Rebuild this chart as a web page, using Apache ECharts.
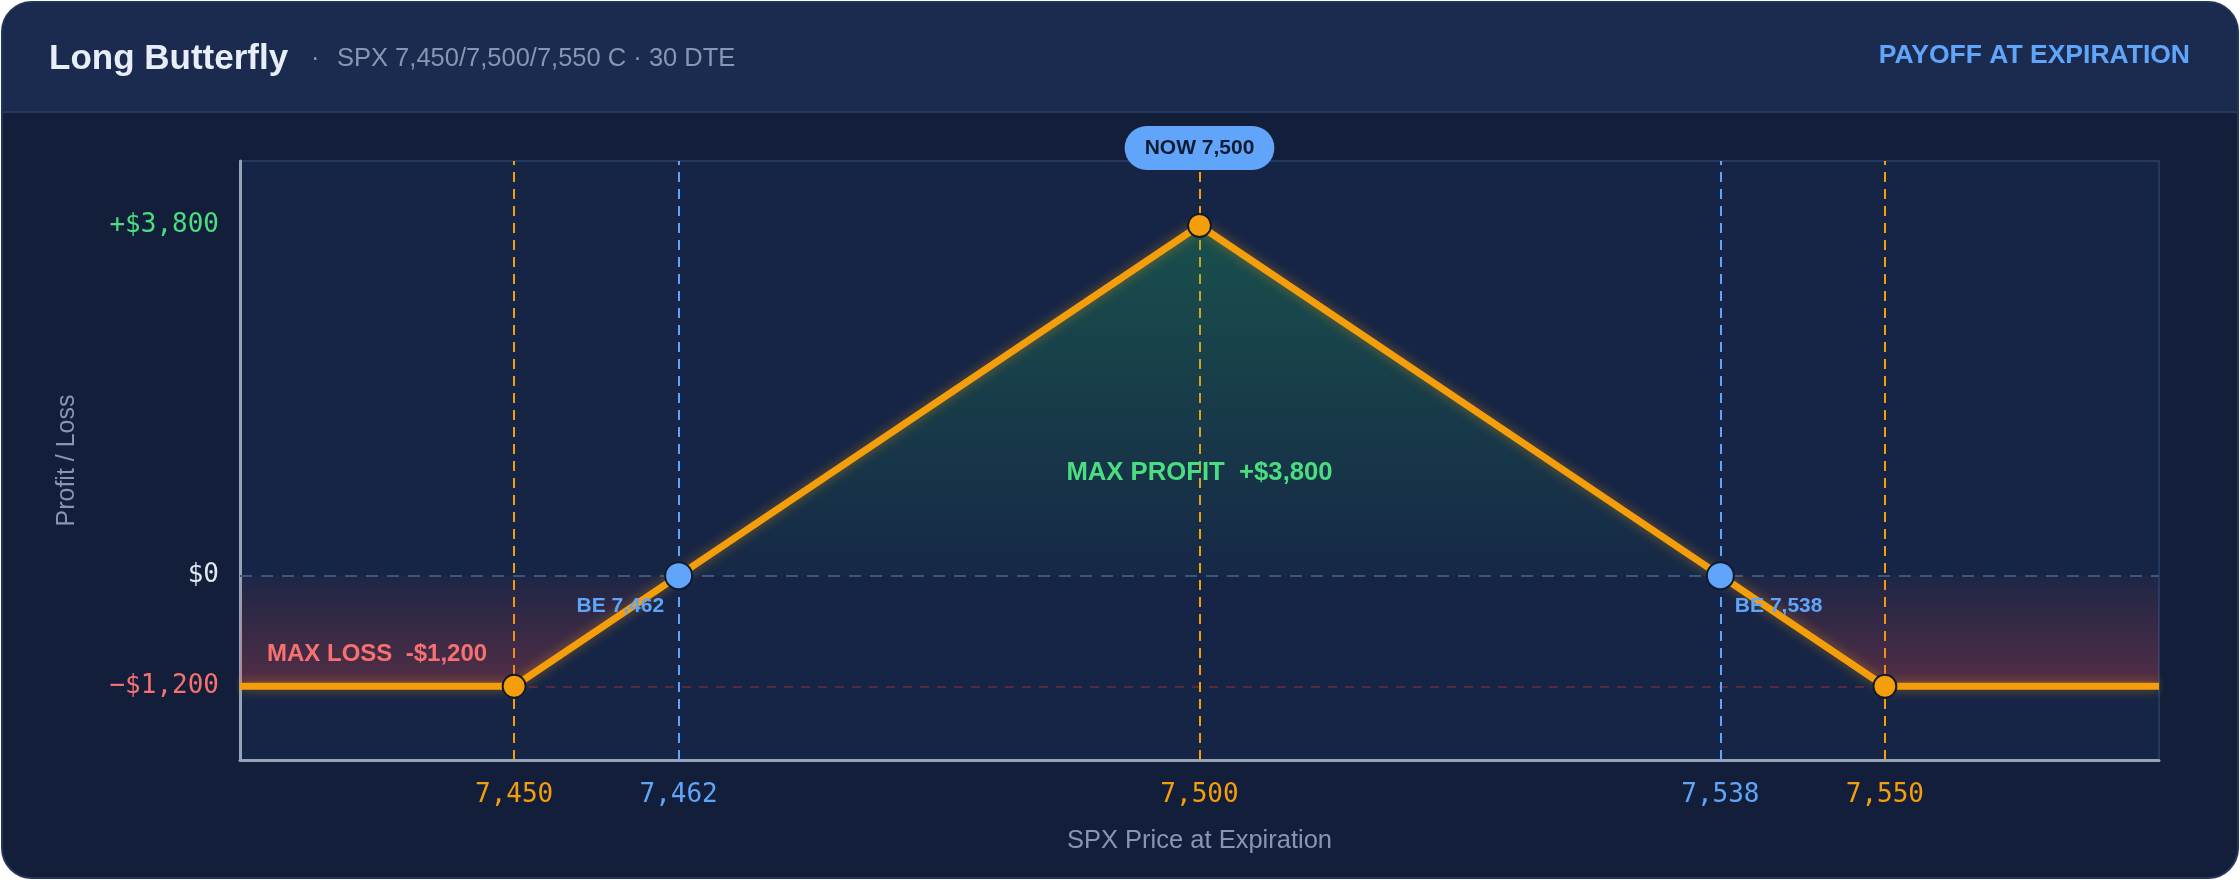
<!DOCTYPE html>
<html>
<head>
<meta charset="utf-8">
<script src="https://cdn.jsdelivr.net/npm/echarts@6/dist/echarts.min.js"></script>
<style>
  html, body { margin: 0; padding: 0; background: #ffffff; }
  #chart { width: 2240px; height: 880px; }
</style>
</head>
<body>
<div id="chart"></div>
<script>
// payoff curve of the butterfly (underlying price -> P/L in $)
var priceX = [7430, 7450, 7462, 7500, 7538, 7550, 7570];
var payoff = [-1200, -1200, 0, 3800, 0, -1200, -1200];

var strikes = [7450, 7500, 7550];
var strikePnl = [-1200, 3800, -1200];
var breakevens = [7462, 7538];

var xTicks = [7450, 7462, 7500, 7538, 7550];
var yTicks = [-1200, 0, 3800];

var ORANGE = '#f59e0b';
var BLUE = '#60a5fa';
var GREEN = '#4ade80';
var RED = '#f87171';
var SANS = '"Liberation Sans", Arial, sans-serif';
var MONO = '"DejaVu Sans Mono", monospace';

var chart = echarts.init(document.getElementById('chart'));

function money(v) {
    var s = '$' + Math.abs(v).toLocaleString('en-US');
    if (v > 0) return '+' + s;
    if (v < 0) return '\u2212' + s;
    return s;
}

function toNum(v) {
    return Math.round(Number(String(v).replace(/[^0-9.\-]/g, '')));
}

var dash = [10, 7];

var option = {
    animation: false,
    backgroundColor: 'transparent',
    graphic: [
        {
            type: 'rect', z: -10,
            shape: { x: 2, y: 2, width: 2236, height: 876, r: 30 },
            style: { fill: '#131f3a', stroke: '#22365c', lineWidth: 2 }
        },
        {
            type: 'rect', z: -9,
            shape: { x: 3, y: 3, width: 2234, height: 109, r: [29, 29, 0, 0] },
            style: { fill: '#1b2b4f' }
        },
        {
            type: 'line', z: -8,
            shape: { x1: 3, y1: 112, x2: 2237, y2: 112 },
            style: { stroke: '#24395f', lineWidth: 2 }
        },
        {
            type: 'text', left: 49, top: 42,
            style: { text: 'Long Butterfly', fill: '#e8eef8', font: 'bold 35px ' + SANS }
        },
        {
            type: 'text', left: 311, top: 46,
            style: { text: '\u00b7', fill: '#8796b3', font: '25.5px ' + SANS }
        },
        {
            type: 'text', left: 337, top: 46,
            style: { text: 'SPX 7,450/7,500/7,550 C \u00b7 30 DTE', fill: '#8796b3', font: '25.5px ' + SANS }
        },
        {
            type: 'text', right: 50, top: 42,
            style: { text: 'PAYOFF AT EXPIRATION', fill: BLUE, font: 'bold 26.5px ' + SANS }
        }
    ],
    grid: {
        left: 240, right: 81, top: 161, bottom: 120,
        show: true,
        backgroundColor: '#162546',
        borderColor: '#24395f',
        borderWidth: 2,
        outerBoundsMode: 'none'
    },
    xAxis: {
        type: 'value',
        min: 7430,
        max: 7570,
        name: 'SPX Price at Expiration',
        nameLocation: 'middle',
        nameGap: 68,
        nameTextStyle: { color: '#8796b3', fontSize: 25.5, fontFamily: SANS },
        axisLine: { show: true, onZero: false, lineStyle: { color: '#94a3b8', width: 3 } },
        axisTick: { show: false },
        splitLine: { show: false },
        axisLabel: {
            customValues: xTicks,
            margin: 22,
            fontSize: 26,
            fontFamily: MONO,
            color: function (v) { return breakevens.indexOf(toNum(v)) >= 0 ? BLUE : ORANGE; },
            formatter: function (v) { return v.toLocaleString('en-US'); }
        }
    },
    yAxis: {
        type: 'value',
        min: -2000,
        max: 4500,
        name: 'Profit / Loss',
        nameLocation: 'middle',
        nameGap: 160,
        nameTextStyle: { color: '#8796b3', fontSize: 25, fontFamily: SANS },
        axisLine: { show: true, onZero: false, lineStyle: { color: '#94a3b8', width: 3 } },
        axisTick: { show: false },
        splitLine: { show: false },
        axisLabel: {
            customValues: yTicks,
            margin: 21,
            fontSize: 26,
            fontFamily: MONO,
            color: function (v) {
                var n = toNum(v);
                return n > 0 ? GREEN : (n < 0 ? RED : '#e2e8f0');
            },
            formatter: money
        }
    },
    series: [
        {
            // guide lines only
            name: 'guides',
            type: 'line',
            data: [],
            z: 1,
            silent: true,
            markLine: {
                z: 1,
                symbol: 'none',
                silent: true,
                label: { show: false },
                emphasis: { disabled: true },
                data: [
                    { yAxis: 0, lineStyle: { color: '#3a557f', width: 2, type: [12, 9] } },
                    { yAxis: -1200, lineStyle: { color: '#6a2c3c', width: 1.5, type: [9, 8] } },
                    { xAxis: strikes[0], lineStyle: { color: ORANGE, width: 2, type: dash } },
                    { xAxis: strikes[1], lineStyle: { color: ORANGE, width: 2, type: dash } },
                    { xAxis: strikes[2], lineStyle: { color: ORANGE, width: 2, type: dash } },
                    { xAxis: breakevens[0], lineStyle: { color: BLUE, width: 2, type: dash } },
                    { xAxis: breakevens[1], lineStyle: { color: BLUE, width: 2, type: dash } }
                ]
            }
        },
        {
            name: 'P/L',
            type: 'line',
            z: 3,
            showSymbol: false,
            data: priceX.map(function (x, i) { return [x, payoff[i]]; }),
            lineStyle: {
                color: ORANGE,
                width: 7,
                shadowColor: 'rgba(245,158,11,0.45)',
                shadowBlur: 12
            },
            areaStyle: {
                origin: 0,
                color: {
                    type: 'linear', x: 0, y: 0, x2: 0, y2: 1,
                    colorStops: [
                        { offset: 0, color: 'rgba(34,197,94,0.38)' },
                        { offset: 0.76, color: 'rgba(34,197,94,0.03)' },
                        { offset: 0.76, color: 'rgba(239,68,68,0.05)' },
                        { offset: 1, color: 'rgba(239,68,68,0.40)' }
                    ]
                }
            },
            markPoint: {
                symbol: 'circle',
                symbolSize: 1,
                itemStyle: { color: 'rgba(0,0,0,0)' },
                data: [
                    {
                        coord: [7500, 1110],
                        label: {
                            show: true, position: 'inside',
                            formatter: 'MAX PROFIT  +$3,800',
                            color: GREEN, fontSize: 25.7, fontWeight: 'bold', fontFamily: SANS
                        }
                    },
                    {
                        coord: [7440, -850],
                        label: {
                            show: true, position: 'inside',
                            formatter: 'MAX LOSS  -$1,200',
                            color: RED, fontSize: 24, fontWeight: 'bold', fontFamily: SANS
                        }
                    },
                    {
                        coord: [7500, 4500],
                        label: {
                            show: true, position: 'inside',
                            offset: [0, -13],
                            formatter: 'NOW 7,500',
                            color: '#0f1b33', fontSize: 21, fontWeight: 'bold', fontFamily: SANS,
                            backgroundColor: BLUE,
                            borderRadius: 23,
                            padding: [12, 20, 11, 20]
                        }
                    }
                ]
            }
        },
        {
            name: 'strikes',
            type: 'scatter',
            z: 4,
            symbolSize: 23,
            itemStyle: { color: ORANGE, borderColor: '#0f1a30', borderWidth: 2, opacity: 1 },
            data: strikes.map(function (x, i) { return [x, strikePnl[i]]; })
        },
        {
            name: 'breakeven',
            type: 'scatter',
            z: 4,
            symbolSize: 27,
            itemStyle: { color: BLUE, borderColor: '#0f1a30', borderWidth: 2, opacity: 1 },
            label: {
                show: true,
                color: BLUE, fontSize: 21, fontWeight: 'bold', fontFamily: SANS,
                distance: 0,
                offset: [0, 31],
                formatter: function (p) { return 'BE ' + p.value[0].toLocaleString('en-US'); }
            },
            data: [
                { value: [breakevens[0], 0], label: { position: 'left' } },
                { value: [breakevens[1], 0], label: { position: 'right' } }
            ]
        }
    ]
};

chart.setOption(option);
window.onresize = chart.resize;
</script>
</body>
</html>
